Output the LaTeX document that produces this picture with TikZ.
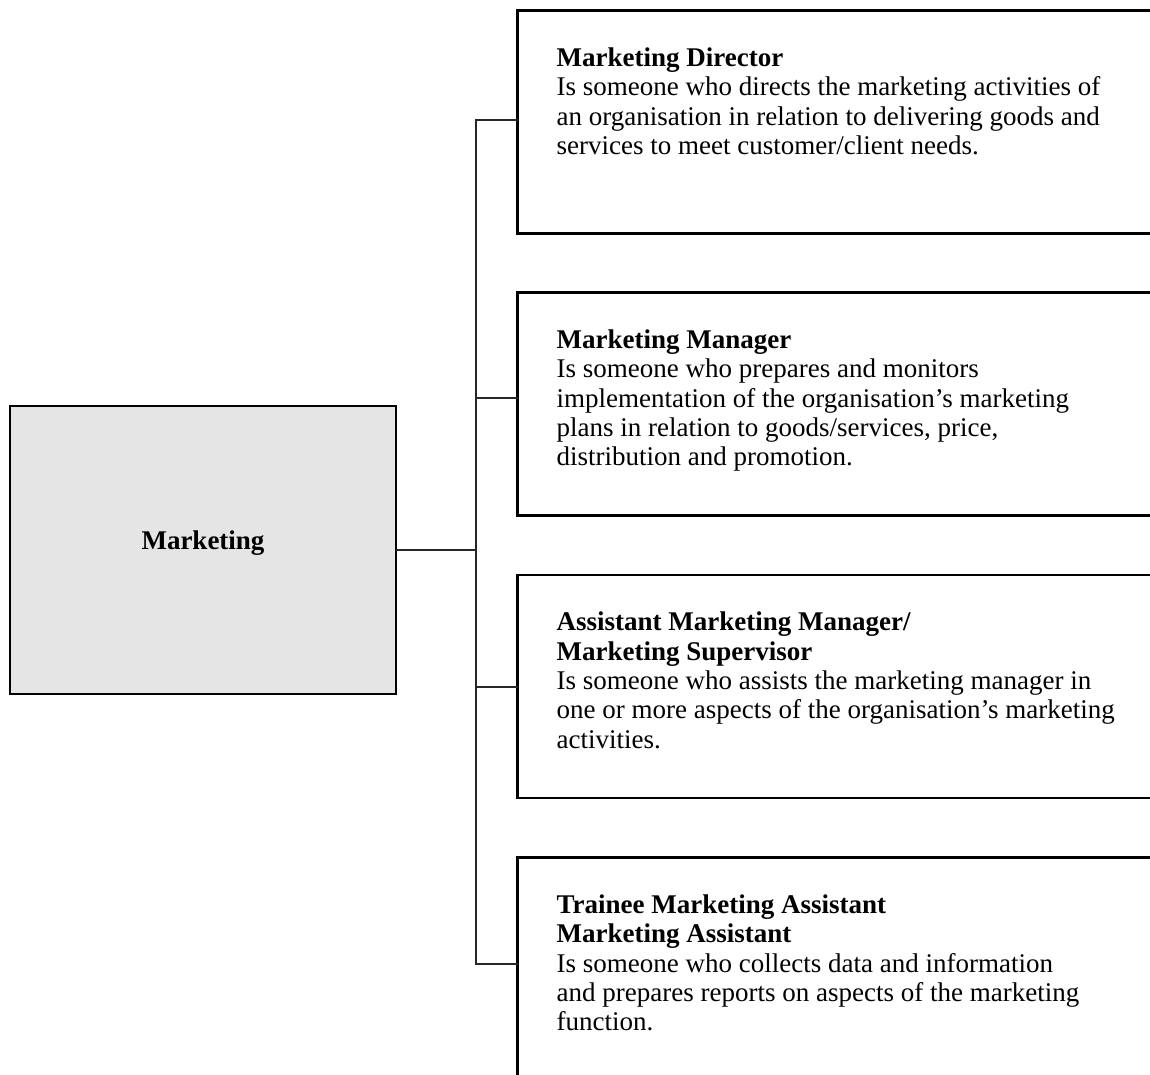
\documentclass[tikz,border=0pt]{standalone}
\usepackage{fontspec}
\setmainfont{Liberation Serif}
\usepackage{tikz}
\usetikzlibrary{positioning}
\definecolor{boxgray}{RGB}{229, 229, 229}

\tikzset{
  rolebox/.style={draw=black, line width=2.4pt, outer sep=0pt, inner sep=0pt,
    minimum width=700pt, minimum height=223pt},
  roletext/.style={anchor=north west, align=left, inner sep=0pt,
    font=\fontsize{27}{29.3}\selectfont},
  link/.style={draw=black!85, line width=2pt}
}

\begin{document}
\begin{tikzpicture}[x=1pt, y=1pt]
    % Page frame
        \useasboundingbox (0,0) rectangle (1150,-1075);
        \clip (0,0) rectangle (1150,-1075);

        % Root box
        \node[draw=black, fill=boxgray, line width=2.4pt, outer sep=0pt,
              minimum width=385.6pt, minimum height=287.6pt] (mkt) at (203,-550) {};
        \node[anchor=base, inner sep=0pt, font=\fontsize{27}{29.3}\selectfont\bfseries]
              (mkttext) at ([yshift=1pt]mkt.center) {Marketing};

        % Role boxes (cut off by the page edge)
        \node[rolebox, anchor=north west] (dir) at (517.5,-10.5) {};
        \node[rolebox, below=59pt of dir] (mgr) {};
        \node[rolebox, below=59.5pt of mgr] (asst) {};
        \node[rolebox, below=59.5pt of asst] (trn) {};

        % Role texts
        \node[roletext] (dirtext) at ([shift={(39,-37)}]dir.north west)
            {\textbf{Marketing Director}\\
             Is someone who directs the marketing activities of\\
             an organisation in relation to delivering goods and\\
             services to meet customer/client needs.};
        \node[roletext] (mgrtext) at ([shift={(39,-37)}]mgr.north west)
            {\textbf{Marketing Manager}\\
             Is someone who prepares and monitors\\
             implementation of the organisation’s marketing\\
             plans in relation to goods/services, price,\\
             distribution and promotion.};
        \node[roletext] (assttext) at ([shift={(39,-37)}]asst.north west)
            {\textbf{Assistant Marketing Manager/}\\
             \textbf{Marketing Supervisor}\\
             Is someone who assists the marketing manager in\\
             one or more aspects of the organisation’s marketing\\
             activities.};
        \node[roletext] (trntext) at ([shift={(39,-37)}]trn.north west)
            {\textbf{Trainee Marketing Assistant}\\
             \textbf{Marketing Assistant}\\
             Is someone who collects data and information\\
             and prepares reports on aspects of the marketing\\
             function.};

        % Connectors
        \coordinate (hub) at (476,-550);
        \draw[link] (mkt.east) -- (hub);
        \foreach \b/\dy in {dir/2,mgr/6,asst/0,trn/5}
            \draw[link] ([yshift=\dy pt]\b.west) -| (hub);
    \end{tikzpicture}
\end{document}
